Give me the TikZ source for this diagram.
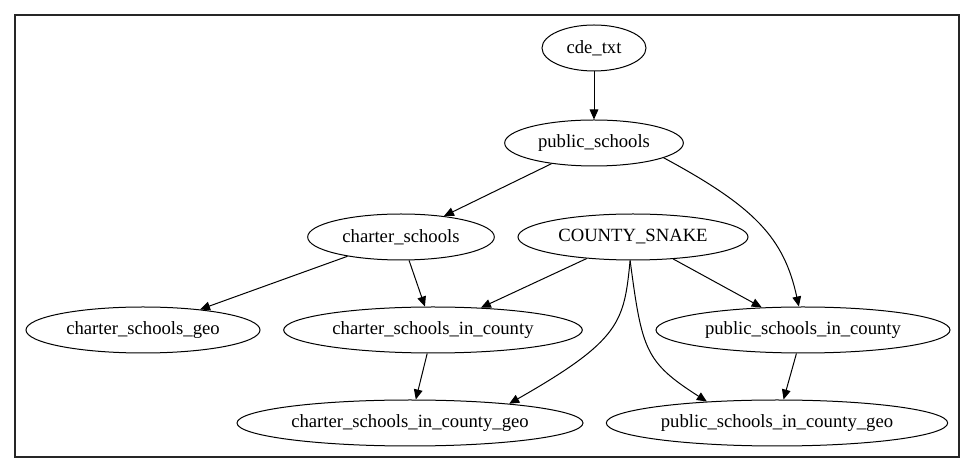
\documentclass[tikz,border=0pt]{standalone}
\usepackage{fontspec}
\setmainfont{Liberation Serif}
\usetikzlibrary{shapes.geometric,arrows.meta}
\begin{document}
\begin{tikzpicture}[x=0.75pt,y=0.75pt,
  nd/.style={draw=black,ellipse,line width=0.75pt,inner sep=0pt,minimum height=34.5pt,font=\fontsize{14}{16}\selectfont},
  ar/.style={-{Triangle[length=7.5pt,width=6.5pt]},line width=0.75pt,black}]
\useasboundingbox (0,0) rectangle (975,-473);
\draw[line width=0.9pt,black!85] (15,-15) rectangle (959,-457);
\node[nd,minimum width=78pt] (cde) at (594,-48) {cde\_txt};
\node[nd,minimum width=134pt] (ps) at (594,-143) {public\_schools};
\node[nd,minimum width=140pt] (chs) at (401,-237) {charter\_schools};
\node[nd,minimum width=172.5pt] (cs) at (633,-237) {COUNTY\_SNAKE};
\node[nd,minimum width=175.5pt] (csg) at (143,-330) {charter\_schools\_geo};
\node[nd,minimum width=224pt] (csic) at (433,-330) {charter\_schools\_in\_county};
\node[nd,minimum width=220.5pt] (psic) at (803,-330) {public\_schools\_in\_county};
\node[nd,minimum width=259.5pt] (csicg) at (410,-423) {charter\_schools\_in\_county\_geo};
\node[nd,minimum width=256pt] (psicg) at (777,-423) {public\_schools\_in\_county\_geo};
\draw[ar] (cde) -- (ps);
\draw[ar] (ps) -- (chs);
\draw[ar] (ps.-12) .. controls (755,-207) and (784,-238) .. (psic.100);
\draw[ar] (chs) -- (csg);
\draw[ar] (chs) -- (csic);
\draw[ar] (cs) -- (csic);
\draw[ar] (cs) -- (psic);
\draw[ar] (csic) -- (csicg);
\draw[ar] (psic) -- (psicg);
\draw[ar] (cs.-97) .. controls (624,-322) and (621,-340) .. (csicg.11);
\draw[ar] (cs.-97) .. controls (642,-350) and (645,-362) .. (psicg.163);
\end{tikzpicture}
\end{document}
